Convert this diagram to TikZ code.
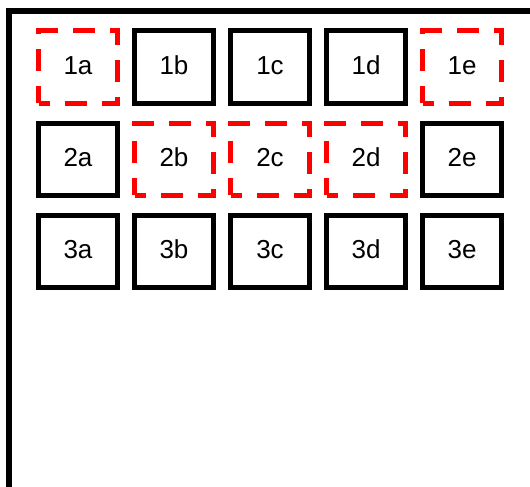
\documentclass[tikz,border=0pt]{standalone}
\usepackage{fontspec}
\setmainfont{Liberation Sans}
\usepackage{tikz}
\usetikzlibrary{positioning}
\tikzstyle{cell} = [draw, rectangle, line width=5pt, minimum width=79pt, minimum height=72pt, inner sep=0pt, text height=14.6pt, text depth=0pt, font=\fontsize{26}{26}\selectfont]
\tikzstyle{picked} = [cell, draw=red, dash pattern=on 22pt off 15pt, dash phase=11pt]

\begin{document}
\begin{tikzpicture}[x=1pt, y=1pt, node distance = 15pt and 12pt]
    \useasboundingbox (0,0) rectangle (530,-487);
    \clip (0,0) rectangle (530,-487);
    % outer frame, cut off at right and bottom
    \draw [line width=6pt] (9,-11.5) rectangle (560,-520);

    \node [picked] (c1a) at (78,-67) {1a};
    \node [cell, right=of c1a] (c1b) {1b};
    \node [cell, right=of c1b] (c1c) {1c};
    \node [cell, right=of c1c] (c1d) {1d};
    \node [picked, right=of c1d] (c1e) {1e};

    \node [cell, below=of c1a] (c2a) {2a};
    \node [picked, right=of c2a] (c2b) {2b};
    \node [picked, right=of c2b] (c2c) {2c};
    \node [picked, right=of c2c] (c2d) {2d};
    \node [cell, right=of c2d] (c2e) {2e};

    \node [cell, below=of c2a] (c3a) {3a};
    \node [cell, right=of c3a] (c3b) {3b};
    \node [cell, right=of c3b] (c3c) {3c};
    \node [cell, right=of c3c] (c3d) {3d};
    \node [cell, right=of c3d] (c3e) {3e};
\end{tikzpicture}
\end{document}
